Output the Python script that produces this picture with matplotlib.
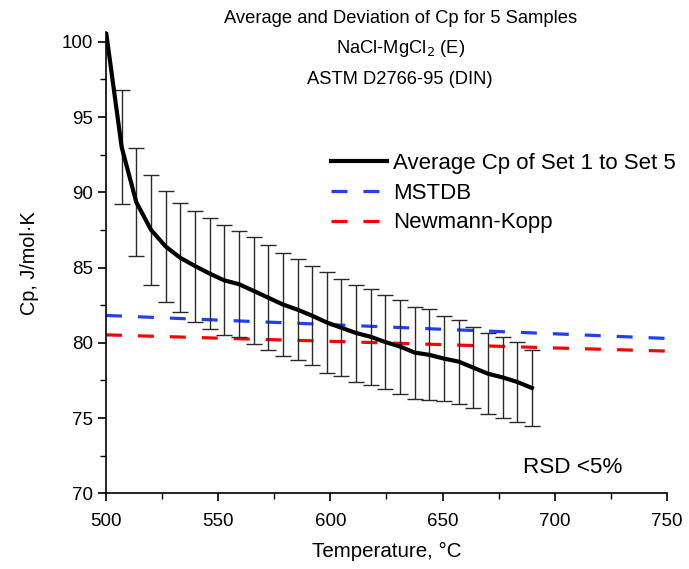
import matplotlib
matplotlib.use("Agg")
import matplotlib.pyplot as plt
import numpy as np

plt.rcParams['font.family'] = ['Liberation Sans', 'DejaVu Sans']

# Average Cp (first point at 500 °C has no error bar)
temp_avg = [500.0, 507.0, 513.5, 520.1, 526.6, 533.1, 539.7, 546.2, 552.7, 559.2,
            565.8, 572.3, 578.8, 585.4, 591.9, 598.4, 604.9, 611.5, 618.0, 624.5,
            631.1, 637.6, 644.1, 650.7, 657.2, 663.7, 670.2, 676.8, 683.3, 689.8]
cp_avg = [100.7, 93.0, 89.35, 87.5, 86.4, 85.65, 85.1, 84.6, 84.15, 83.9,
          83.45, 83.0, 82.55, 82.2, 81.8, 81.35, 81.0, 80.65, 80.4, 80.05,
          79.75, 79.35, 79.2, 78.95, 78.75, 78.35, 77.95, 77.7, 77.4, 77.0]
cp_dev = [0.0, 3.77, 3.60, 3.65, 3.72, 3.63, 3.69, 3.67, 3.66, 3.54,
          3.55, 3.48, 3.40, 3.36, 3.29, 3.33, 3.23, 3.22, 3.20, 3.14,
          3.12, 3.05, 3.02, 2.83, 2.79, 2.70, 2.71, 2.71, 2.64, 2.55]

temp_model = [500, 550, 600, 650, 700, 750]
cp_mstdb = [81.82, 81.51, 81.21, 80.90, 80.60, 80.29]
cp_nk = [80.53, 80.31, 80.10, 79.88, 79.66, 79.45]

fig = plt.figure(figsize=(6.89, 5.69), dpi=100)
ax = fig.add_axes([0.1538, 0.1330, 0.8142, 0.8107])

ax.plot(temp_model, cp_mstdb, color='#1f3fff', lw=2.3, dashes=(5, 5),
        label='MSTDB', zorder=2)
ax.plot(temp_model, cp_nk, color='#ff0000', lw=2.3, dashes=(5, 5),
        label='Newmann-Kopp', zorder=2)

t_err = np.array(temp_avg[1:])
c_err = np.array(cp_avg[1:])
d_err = np.array(cp_dev[1:])
ax.errorbar(t_err, c_err, yerr=d_err, fmt='none', ecolor='#2a2a2a',
            elinewidth=1.0, capsize=5.5, capthick=1.0, zorder=3)
line_avg, = ax.plot(temp_avg, cp_avg, color='black', lw=3.0,
                    label='Average Cp of Set 1 to Set 5', zorder=4)

ax.set_xlim(500, 750)
ax.set_ylim(70, 100.65)
ax.set_xticks([500, 550, 600, 650, 700, 750])
ax.set_xticks([525, 575, 625, 675, 725], minor=True)
ax.set_yticks([70, 75, 80, 85, 90, 95, 100])
ax.set_yticks([72.5, 77.5, 82.5, 87.5, 92.5, 97.5], minor=True)
for s in ['top', 'right']:
    ax.spines[s].set_visible(False)
for s in ['left', 'bottom']:
    ax.spines[s].set_linewidth(1.2)
ax.tick_params(axis='both', which='major', direction='out', length=6,
               width=1.2, labelsize=13.5)
ax.tick_params(axis='both', which='minor', direction='out', length=4,
               width=1.0)
ax.tick_params(axis='x', pad=8)
ax.set_xlabel('Temperature, \u00b0C', fontsize=14.8, labelpad=9)
ax.set_ylabel('Cp, J/mol\u00b7K', fontsize=14.3, labelpad=16)

handles = [line_avg] + ax.get_lines()[:2]
leg = ax.legend(handles, [h.get_label() for h in handles], loc='center left',
                bbox_to_anchor=(0.386, 0.651), frameon=False, fontsize=16.0,
                handlelength=2.5, handletextpad=0.27, labelspacing=0.40,
                borderaxespad=0)

fig.text(0.581, 0.968, 'Average and Deviation of Cp for 5 Samples',
         ha='center', va='center', fontsize=13.2)
fig.text(0.581, 0.915, 'NaCl-MgCl$_2$ (E)', ha='center', va='center',
         fontsize=13.2)
fig.text(0.581, 0.860, 'ASTM D2766-95 (DIN)', ha='center', va='center',
         fontsize=13.2)
ax.text(0.832, 0.055, 'RSD <5%', transform=ax.transAxes, ha='center',
        va='center', fontsize=16.2)

fig.savefig('out.png', dpi=100)
